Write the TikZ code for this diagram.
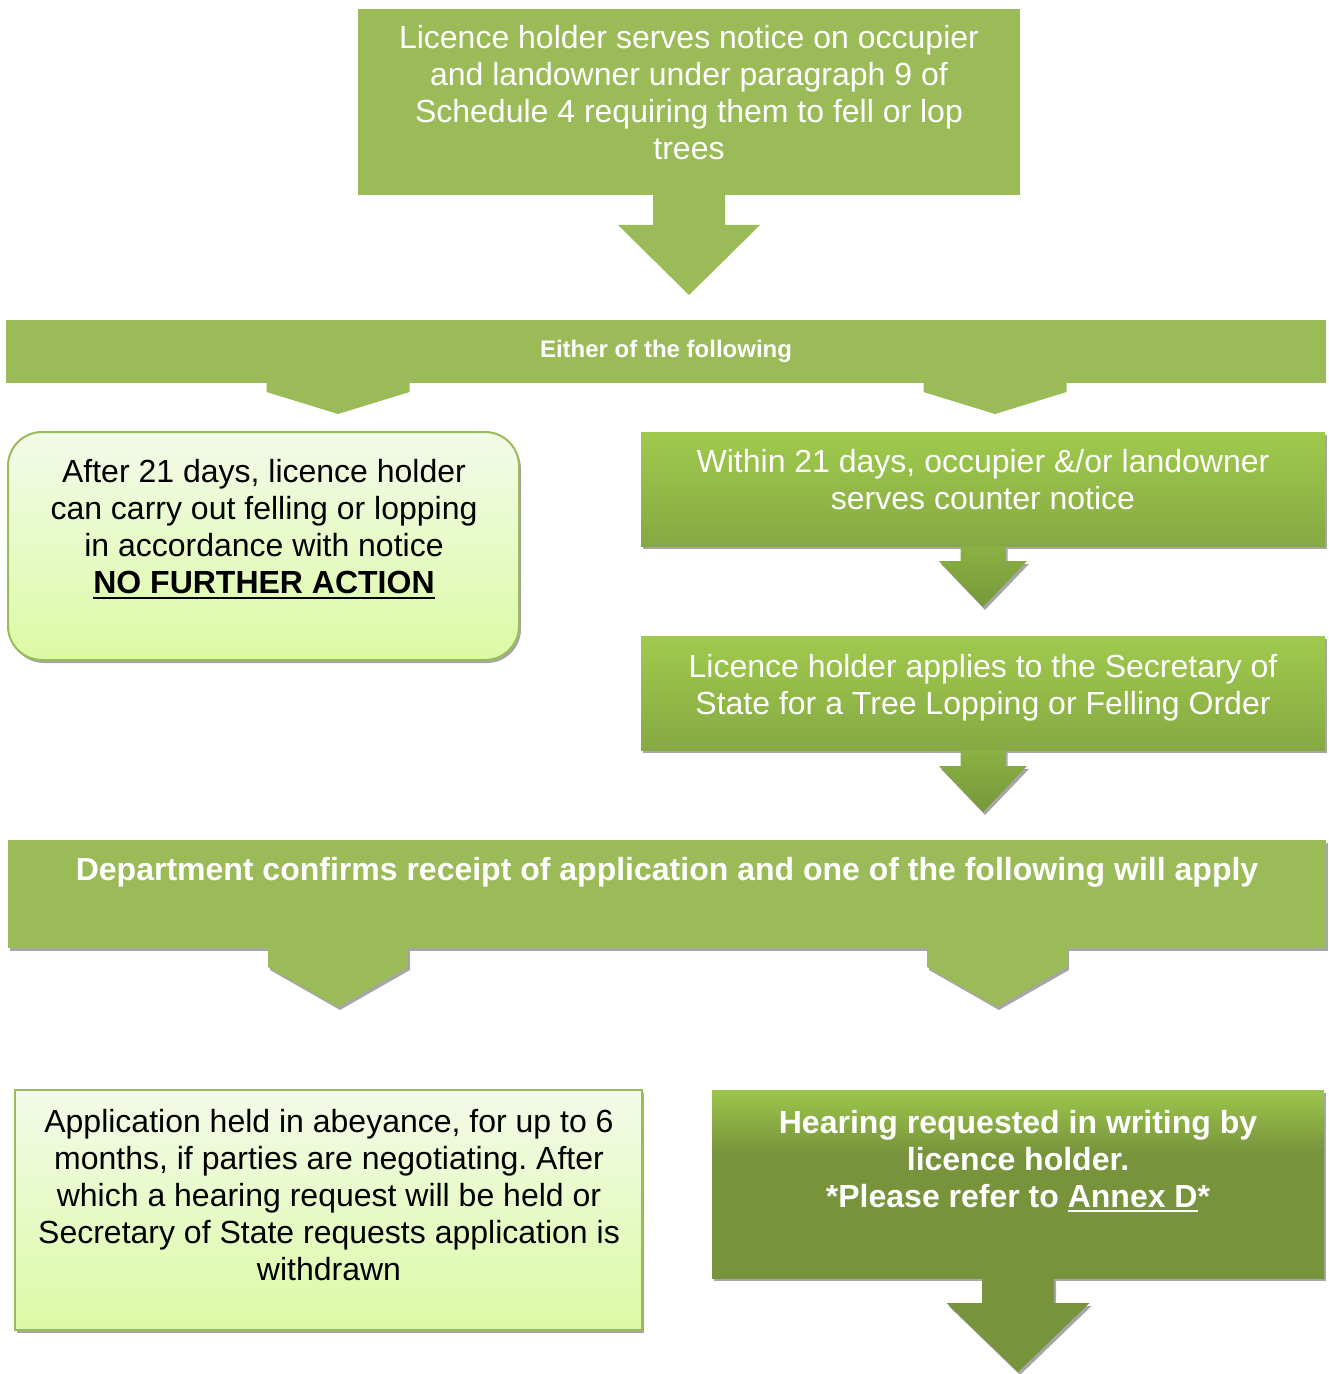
\documentclass[tikz,border=0pt]{standalone}
\usepackage{fontspec}
\setmainfont{Liberation Sans}
\usetikzlibrary{shadows,fit}
\frenchspacing
\definecolor{olv}{HTML}{9BBB59}
\definecolor{rgtop}{HTML}{9FCA4D}
\definecolor{rgbot}{HTML}{86A943}
\definecolor{artop}{HTML}{8BB143}
\definecolor{arbot}{HTML}{76983A}
\definecolor{dkg}{HTML}{77933C}
\definecolor{dklt}{HTML}{9DC64C}
\definecolor{lttop}{HTML}{F3FAE9}
\definecolor{ltbot}{HTML}{DBFAA5}
\definecolor{shd}{HTML}{A6A6A6}
\pgfdeclareverticalshading{dkbox}{100bp}{color(0bp)=(dkg); color(58bp)=(dkg); color(75bp)=(dklt); color(100bp)=(dklt)}
\newcommand\blockarr[6]{\path[#1,shift={(#2)}] (-#3,0) -- (-#3,#5) -- (-#4,#5) -- (0,#6) -- (#4,#5) -- (#3,#5) -- (#3,0) -- cycle;}
\newcommand\chevron[6]{\path[#1,shift={(#2)}] ({#3-#4},0) -- ({#3+#4},0) -- ({#3+#4},#5) -- (#3,#6) -- ({#3-#4},#5) -- cycle;}
\newcommand\myul[3]{\leavevmode\setbox0\hbox{#3}\rlap{\rule[#1]{\wd0}{#2}}\box0}
\begin{document}
\begin{tikzpicture}[x=0.5pt,y=-0.5pt,
  boxbase/.style={inner sep=0pt,outer sep=0pt,minimum size=0pt},
  flat/.style={boxbase,fill=olv},
  shad/.style={drop shadow={shadow xshift=1pt,shadow yshift=-1.5pt,fill=shd,opacity=1}},
  midgreen/.style={boxbase,top color=rgtop,bottom color=rgbot,shad},
  lightbox/.style={boxbase,top color=lttop,bottom color=ltbot,draw=olv,line width=1pt,shad},
  darkbox/.style={boxbase,shading=dkbox,shad},
  arrflat/.style={fill=olv},
  arrgrad/.style={top color=artop,bottom color=arbot,shad},
  arrdark/.style={fill=dkg,shad},
  txt/.style={align=center,inner sep=0pt,font=\fontsize{16}{18.5}\selectfont},
  wtxt/.style={txt,text=white},
  btxt/.style={txt,text=black},
  wbold/.style={wtxt,font=\fontsize{16}{18.5}\selectfont\bfseries},
  ebold/.style={wtxt,font=\fontsize{12}{13.8}\selectfont\bfseries}]
\useasboundingbox (0,0) rectangle (1328,1374);

% top box
\node[flat,fit={(358,9) (1020,195)}] (top) {};
\node[wtxt] (ttop) at (689,97) {\strut Licence holder serves notice on occupier\\\strut and landowner under paragraph 9 of\\\strut Schedule 4 requiring them to fell or lop\\\strut trees};
\blockarr{arrflat}{top.south}{36}{71}{30}{100}

% either bar
\node[flat,fit={(6,320) (1326,383)}] (either) {};
\node[ebold] (teither) at (666,352) {\strut Either of the following};
\chevron{arrflat}{either.south}{-328}{71.5}{9}{31}
\chevron{arrflat}{either.south}{329}{71.5}{9}{31}

% left rounded box
\node[lightbox,rounded corners=17pt,fit={(8,432) (519,660)}] (left) {};
\node[btxt] (tleft) at (264,531) {\strut After 21 days, licence holder\\\strut can carry out felling or lopping\\\strut in accordance with notice\\\strut\textbf{\myul{-2.6pt}{1.2pt}{NO FURTHER ACTION}}};

% right boxes
\node[midgreen,fit={(641,432) (1325,546)}] (r1) {};
\node[wtxt] (tr1) at (983,484) {\strut Within 21 days, occupier \&/or landowner\\\strut serves counter notice};
\blockarr{arrgrad}{r1.south}{22.5}{44}{15}{61}

\node[midgreen,fit={(641,636) (1325,750)}] (r2) {};
\node[wtxt] (tr2) at (983,689) {\strut Licence holder applies to the Secretary of\\\strut State for a Tree Lopping or Felling Order};
\blockarr{arrgrad}{r2.south}{22.5}{44}{16}{62}

% department bar
\node[flat,shad,fit={(8,840) (1326,948)}] (dept) {};
\chevron{arrflat,shad}{dept.south}{-329}{70}{19}{59}
\chevron{arrflat,shad}{dept.south}{330}{70}{19}{59}
\node[wbold] (tdept) at (667,873.5) {\strut Department confirms receipt of application and one of the following will apply};

% bottom left box
\node[lightbox,fit={(15,1090) (642,1330)}] (bl) {};
\node[btxt] (tbl) at (329,1199) {\strut Application held in abeyance, for up to 6\\\strut months, if parties are negotiating. After\\\strut which a hearing request will be held or\\\strut Secretary of State requests application is\\\strut withdrawn};

% bottom right box
\node[darkbox,fit={(712,1090) (1324,1278)}] (br) {};
\node[wbold] (tbr) at (1018,1163) {\strut Hearing requested in writing by\\\strut licence holder.\\\strut *Please refer to \myul{-2.4pt}{0.9pt}{Annex D}*};
\blockarr{arrdark}{br.south}{36}{71.5}{25}{94}
\end{tikzpicture}
\end{document}
